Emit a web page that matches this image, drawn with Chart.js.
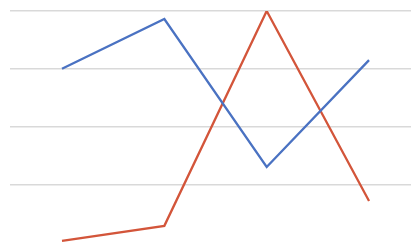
<!DOCTYPE html>
<html>
<head>
<meta charset="utf-8">
<script src="https://cdn.jsdelivr.net/npm/chart.js@4/dist/chart.umd.min.js"></script>
<style>
html,body{margin:0;padding:0;background:#fff;}
#wrap{width:411px;height:242px;}
</style>
</head>
<body>
<div id="wrap"><canvas id="c" width="411" height="242"></canvas></div>
<script>
const categories = ["A", "B", "C", "D"];
const seriesBlue = [3.0, 3.86, 1.3, 3.15];
const seriesRed = [0.02, 0.28, 4.0, 0.71];
const yTicks = [0, 1, 2, 3, 4];

const toPts = arr => arr.map((v, i) => ({x: i, y: v}));

new Chart(document.getElementById('c'), {
  type: 'line',
  data: {
    datasets: [
      {label: 'Series 1', data: toPts(seriesBlue), borderColor: '#4A72C2', borderWidth: 2.3, pointRadius: 0, tension: 0, fill: false},
      {label: 'Series 2', data: toPts(seriesRed), borderColor: '#D3553A', borderWidth: 2.3, pointRadius: 0, tension: 0, fill: false}
    ]
  },
  options: {
    responsive: false,
    animation: false,
    layout: {padding: {left: 10, top: 11, right: 0, bottom: 0}},
    plugins: {legend: {display: false}, tooltip: {enabled: false}},
    scales: {
      x: {
        type: 'linear', min: -0.508, max: 3.41,
        display: false
      },
      y: {
        min: yTicks[0], max: yTicks[yTicks.length - 1],
        afterBuildTicks: s => { s.ticks = yTicks.map(v => ({value: v})); },
        ticks: {display: false},
        border: {display: false},
        grid: {color: ctx => (ctx.tick && ctx.tick.value === 0) ? 'rgba(0,0,0,0)' : '#d9d9d9', lineWidth: 1.5, drawTicks: false}
      }
    }
  }
});
</script>
</body>
</html>
